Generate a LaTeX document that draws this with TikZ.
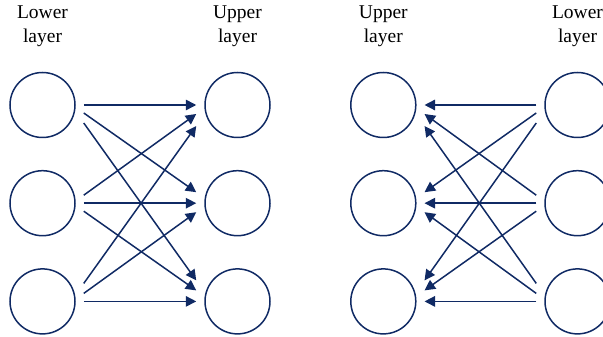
\documentclass[tikz,border=0pt]{standalone}
\usepackage{fontspec}
\setmainfont{Liberation Serif}
\usetikzlibrary{positioning,arrows.meta}
\definecolor{navy}{RGB}{16,42,100}

\begin{document}
\begin{tikzpicture}[x=1pt,y=1pt,
    unit/.style={circle,draw=navy,line width=1.5pt,minimum size=65pt,inner sep=0pt},
    lbl/.style={align=center,inner sep=0pt,font=\fontsize{19.5}{23.5}\selectfont},
    link/.style={draw=navy,line width=1.5pt,-{Triangle[length=10.5pt,width=10.5pt]}}]
            \useasboundingbox (0,0) rectangle (603,337);

            \node[unit] (lo1) at (42.5,232) {};
            \node[unit, below=31.7pt of lo1] (lo2) {};
            \node[unit, below=31.7pt of lo2] (lo3) {};

            \node[unit, right=128.5pt of lo1] (up1) {};
            \node[unit, below=31.7pt of up1] (up2) {};
            \node[unit, below=31.7pt of up2] (up3) {};

            \node[unit] (rup1) at (383.3,232) {};
            \node[unit, below=31.7pt of rup1] (rup2) {};
            \node[unit, below=31.7pt of rup2] (rup3) {};

            \node[unit, right=127.7pt of rup1] (rlo1) {};
            \node[unit, below=31.7pt of rlo1] (rlo2) {};
            \node[unit, below=31.7pt of rlo2] (rlo3) {};

            \node[lbl, above=25pt of lo1] (tlo) {Lower\\layer};
            \node[lbl, above=25pt of up1] (tup) {Upper\\layer};
            \node[lbl, above=25pt of rup1] (trup) {Upper\\layer};
            \node[lbl, above=25pt of rlo1] (trlo) {Lower\\layer};

            \foreach \i/\j/\s/\d in {1/1/0/0, 1/2/-8/11, 1/3/-18/21,
                                     2/1/8/-9, 2/2/0/0, 2/3/-8/11,
                                     3/1/18/-21, 3/2/8/-9, 3/3/0/0} {
                \draw[link] ([shift={(8,\s)}]lo\i.east) -- ([shift={(-8,\d)}]up\j.west);
                \draw[link] ([shift={(-8,\s)}]rlo\i.west) -- ([shift={(8,\d)}]rup\j.east);
            }
\end{tikzpicture}
\end{document}
